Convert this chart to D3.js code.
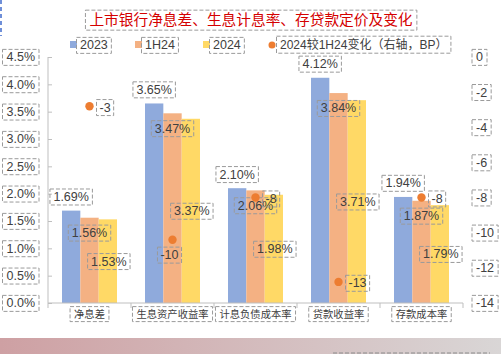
<!DOCTYPE html>
<html>
<head>
<meta charset="utf-8">
<script src="https://cdn.jsdelivr.net/npm/d3@7"></script>
<style>
  body { margin: 0; background: #fff; }
  svg { display: block; font-family: "Liberation Sans", "Noto Sans CJK SC", sans-serif; }
</style>
</head>
<body>
<svg width="501" height="354"></svg>
<script>
// data
var categories = ["净息差", "生息资产收益率", "计息负债成本率", "贷款收益率", "存款成本率"];
var seriesNames = ["2023", "1H24", "2024"];
var v2023 = [1.69, 3.65, 2.10, 4.12, 1.94];
var v1H24 = [1.56, 3.47, 2.06, 3.84, 1.87];
var v2024 = [1.53, 3.37, 1.98, 3.71, 1.79];
var changeBP = [-2.8, -10.4, -8.0, -12.8, -8.0];
var changeLabels = ["-3", "-10", "-8", "-13", "-8"];
var leftTicks = [0, 0.5, 1, 1.5, 2, 2.5, 3, 3.5, 4, 4.5];
var rightTicks = [0, -2, -4, -6, -8, -10, -12, -14];

var colors = ["#8faadc", "#f4b183", "#ffd966"];
var dotColor = "#ed7d31";
var textColor = "#404040";
var axisColor = "#bfbfbf";

var svg = d3.select("svg");

// background strip at the bottom
var defs = svg.append("defs");
var grad = defs.append("linearGradient").attr("id", "strip");
grad.append("stop").attr("offset", "0%").attr("stop-color", "#cea0a3");
grad.append("stop").attr("offset", "100%").attr("stop-color", "#d9d6d6");
svg.append("rect").attr("x", 0).attr("y", 338).attr("width", 501).attr("height", 16)
    .attr("fill", "url(#strip)");
svg.append("line").attr("x1", 333).attr("x2", 490).attr("y1", 353).attr("y2", 353)
    .attr("stroke", "#8c8c8c").attr("stroke-dasharray", "4,2");
svg.append("line").attr("x1", 1).attr("x2", 1).attr("y1", 0).attr("y2", 36)
    .attr("stroke", "#6f8fd8").attr("stroke-width", 2).attr("stroke-dasharray", "4,3");

// text with a dashed box around it
function boxedText(parent, x, y, txt, opts) {
    opts = opts || {};
    var g = parent.append("g");
    var t = g.append("text")
        .attr("x", x).attr("y", y)
        .attr("dy", "0.35em")
        .attr("text-anchor", opts.anchor || "middle")
        .attr("font-size", opts.size || 12)
        .attr("fill", opts.color || textColor)
        .text(txt);
    var bb = t.node().getBBox();
    var px = opts.padX == null ? 3.5 : opts.padX;
    var py = opts.padY == null ? 1 : opts.padY;
    g.insert("rect", "text")
        .attr("x", bb.x - px).attr("y", bb.y - py)
        .attr("width", bb.width + 2 * px).attr("height", bb.height + 2 * py)
        .attr("fill", "none")
        .attr("stroke", "#9a9a9a")
        .attr("stroke-dasharray", "4,2");
    return g;
}

var x = d3.scaleBand().domain(categories).range([48, 463]);
var xSub = d3.scaleBand().domain(seriesNames).range([14, 69]);
var y = d3.scaleLinear().domain([0, 4.5]).range([303, 57]);
var yR = d3.scaleLinear().domain([-14, 0]).range([303, 57]);

// title
boxedText(svg, 251, 20, "上市银行净息差、生息计息率、存贷款定价及变化",
    {size: 14.7, color: "#d40000", padX: 4, padY: 2});

// legend
var legend = svg.append("g");
var legendX = [70, 135, 203];
seriesNames.forEach(function(s, i) {
    legend.append("rect").attr("x", legendX[i]).attr("y", 41).attr("width", 7).attr("height", 7)
        .attr("fill", colors[i]);
    boxedText(legend, legendX[i] + 10, 45, s, {anchor: "start", size: 12.5});
});
legend.append("circle").attr("cx", 272).attr("cy", 45).attr("r", 3.5).attr("fill", dotColor);
boxedText(legend, 280, 45, "2024较1H24变化（右轴，BP）", {anchor: "start", size: 12});

// left axis
var yAxis = svg.append("g").attr("transform", "translate(48,0)")
    .call(d3.axisLeft(y).tickValues(leftTicks).tickSize(-4).tickFormat(function() { return ""; }));
yAxis.select(".domain").attr("stroke", axisColor).attr("d", "M0,57V303");
yAxis.selectAll(".tick line").attr("stroke", axisColor);
leftTicks.forEach(function(t) {
    boxedText(svg, 35, y(t), d3.format(".1f")(t) + "%", {anchor: "end", size: 12.5, padX: 4});
});

// right axis labels
rightTicks.forEach(function(t) {
    boxedText(svg, 476, yR(t), String(t), {anchor: "start", size: 12.5, padX: 4});
});

// bars
var groups = svg.append("g").selectAll("g")
    .data(categories)
    .enter().append("g")
    .attr("transform", function(d) { return "translate(" + x(d) + ",0)"; });

var allSeries = [v2023, v1H24, v2024];
groups.each(function(cat, ci) {
    var g = d3.select(this);
    allSeries.forEach(function(vals, si) {
        g.append("rect")
            .attr("x", xSub(seriesNames[si]))
            .attr("y", y(vals[ci]))
            .attr("width", xSub.bandwidth())
            .attr("height", y(0) - y(vals[ci]))
            .attr("fill", colors[si]);
    });
});

// bottom axis
var xAxis = svg.append("g").attr("transform", "translate(0,303)");
xAxis.append("line").attr("x1", 48).attr("x2", 463).attr("stroke", axisColor);
x.domain().concat([null]).forEach(function(d, i) {
    var xp = d == null ? 463 : x(d);
    xAxis.append("line").attr("x1", xp).attr("x2", xp).attr("y1", 0).attr("y2", 5)
        .attr("stroke", axisColor);
});
categories.forEach(function(c) {
    boxedText(svg, x(c) + x.bandwidth() / 2, 314.5, c, {size: 10.3, padX: 4, padY: 1.5});
});

// bar labels
var labels = svg.append("g");
categories.forEach(function(c, ci) {
    var b0 = x(c) + xSub("2023") + xSub.bandwidth() / 2;
    var b1 = x(c) + xSub("1H24") + xSub.bandwidth() / 2;
    var b2 = x(c) + xSub("2024") + xSub.bandwidth() / 2;
    boxedText(labels, b0, y(v2023[ci]) - 14, v2023[ci].toFixed(2) + "%", {size: 12.5});
    boxedText(labels, b1, y(v1H24[ci]) + 15, v1H24[ci].toFixed(2) + "%", {size: 12.5});
    boxedText(labels, b2 + 1, (y(v2024[ci]) + y(0)) / 2, v2024[ci].toFixed(2) + "%", {size: 12.5});
});

// change dots on the right axis
categories.forEach(function(c, ci) {
    var cx = x(c) + x.bandwidth() / 2;
    var cy = yR(changeBP[ci]);
    labels.append("circle").attr("cx", cx).attr("cy", cy).attr("r", 4.2).attr("fill", dotColor);
    if (ci == 1) {
        boxedText(labels, cx - 3, cy + 15, changeLabels[ci], {size: 12.5, padX: 3});
    } else {
        boxedText(labels, cx + 10, cy + 1, changeLabels[ci], {anchor: "start", size: 12.5, padX: 3});
    }
});
</script>
</body>
</html>
